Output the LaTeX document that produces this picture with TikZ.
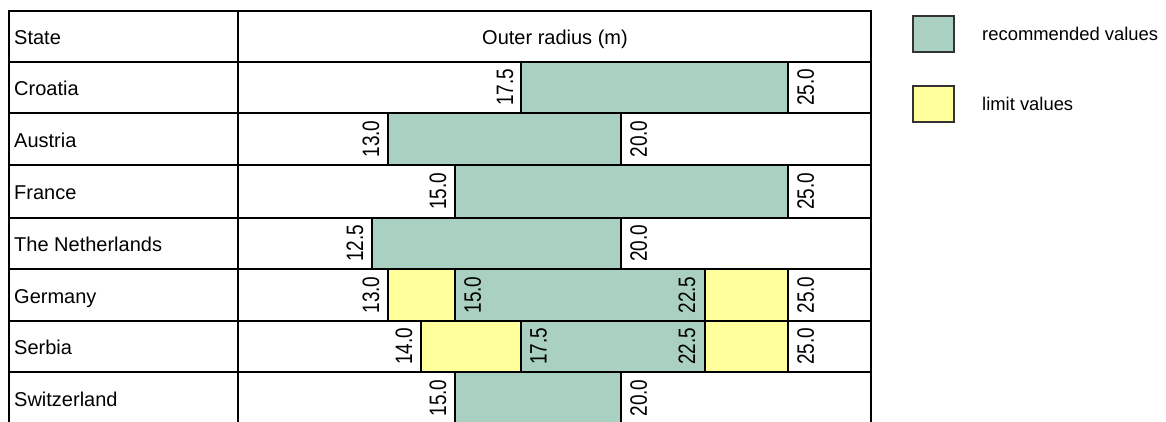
\documentclass[tikz,border=0pt]{standalone}
\usepackage{fontspec}
\setmainfont{Liberation Sans}
\usepackage{graphicx}
\definecolor{recgreen}{RGB}{170,208,193}
\definecolor{limyellow}{RGB}{255,255,155}
\newcommand\mytabfont{\fontsize{20}{24}\selectfont}
\newcommand\mylegfont{\fontsize{18.4}{22}\selectfont}
\newcommand\mynumfont{\fontsize{19}{22}\selectfont}
\newcommand\vnum[1]{\scalebox{1}[1.25]{#1}}
\tikzset{
  gridline/.style={line width=1.8pt, black},
  recbar/.style={fill=recgreen, draw=black, line width=1.8pt},
  limbar/.style={fill=limyellow, draw=black, line width=1.8pt},
  cell/.style={font=\mytabfont, anchor=base west, inner sep=0pt},
  headc/.style={font=\mytabfont, anchor=base, inner sep=0pt},
  vleft/.style={rotate=90, anchor=base, inner sep=0pt, font=\mynumfont},
  vright/.style={rotate=90, anchor=north, inner sep=0pt, font=\mynumfont},
  legbox/.style={draw=black!80, line width=1.5pt},
  legtext/.style={font=\mylegfont, anchor=base west, inner sep=0pt},
}
\begin{document}
\begin{tikzpicture}[x=1pt,y=-1pt]
\useasboundingbox (0,0) rectangle (1166,421);
\clip (0,0) rectangle (1166,421);
% bars
\path[recbar] (521,62) rectangle (788,113);
\path[recbar] (388,113) rectangle (621,165);
\path[recbar] (455,165) rectangle (788,218);
\path[recbar] (372,218) rectangle (621,269);
\path[limbar] (388,269) rectangle (455,321);
\path[recbar] (455,269) rectangle (705,321);
\path[limbar] (705,269) rectangle (788,321);
\path[limbar] (421,321) rectangle (521,372);
\path[recbar] (521,321) rectangle (705,372);
\path[limbar] (705,321) rectangle (788,372);
\path[recbar] (455,372) rectangle (621,440);
% grid
\draw[gridline] (9,440) -- (9,11) -- (871,11) -- (871,440);
\draw[gridline] (238,11) -- (238,440);
\foreach \yy in {62,113,165,218,269,321,372}
  \draw[gridline] (9,\yy) -- (871,\yy);
% first column
\node[cell] (tState) at (14,44.5) {State};
\node[cell] (tCro) at (14,95.5) {Croatia};
\node[cell] (tAut) at (14,147) {Austria};
\node[cell] (tFra) at (14,199.5) {France};
\node[cell] (tNed) at (14,251.5) {The Netherlands};
\node[cell] (tGer) at (14,303) {Germany};
\node[cell] (tSrb) at (14,354.5) {Serbia};
\node[cell] (tSui) at (14,406) {Switzerland};
\node[headc] (tHead) at (555,44.5) {Outer radius (m)};
% values
\node[vleft] (vCroA) at (513,87.5) {\vnum{17.5}};
\node[vright] (vCroB) at (797,87.5) {\vnum{25.0}};
\node[vleft] (vAutA) at (379,139) {\vnum{13.0}};
\node[vright] (vAutB) at (630,139) {\vnum{20.0}};
\node[vleft] (vFraA) at (446,191.5) {\vnum{15.0}};
\node[vright] (vFraB) at (797,191.5) {\vnum{25.0}};
\node[vleft] (vNedA) at (363,243.5) {\vnum{12.5}};
\node[vright] (vNedB) at (630,243.5) {\vnum{20.0}};
\node[vleft] (vGerA) at (379,295) {\vnum{13.0}};
\node[vright] (vGerB) at (464,295) {\vnum{15.0}};
\node[vleft] (vGerC) at (695,295) {\vnum{22.5}};
\node[vright] (vGerD) at (797,295) {\vnum{25.0}};
\node[vleft] (vSrbA) at (412,346.5) {\vnum{14.0}};
\node[vright] (vSrbB) at (530,346.5) {\vnum{17.5}};
\node[vleft] (vSrbC) at (695,346.5) {\vnum{22.5}};
\node[vright] (vSrbD) at (797,346.5) {\vnum{25.0}};
\node[vleft] (vSuiA) at (446,398) {\vnum{15.0}};
\node[vright] (vSuiB) at (630,398) {\vnum{20.0}};
% legend
\draw[legbox, fill=recgreen] (913,16) rectangle (954,52);
\draw[legbox, fill=limyellow] (913,86) rectangle (954,122);
\node[legtext] (lRec) at (982,40) {recommended values};
\node[legtext] (lLim) at (982,110.5) {limit values};
\end{tikzpicture}
\end{document}
